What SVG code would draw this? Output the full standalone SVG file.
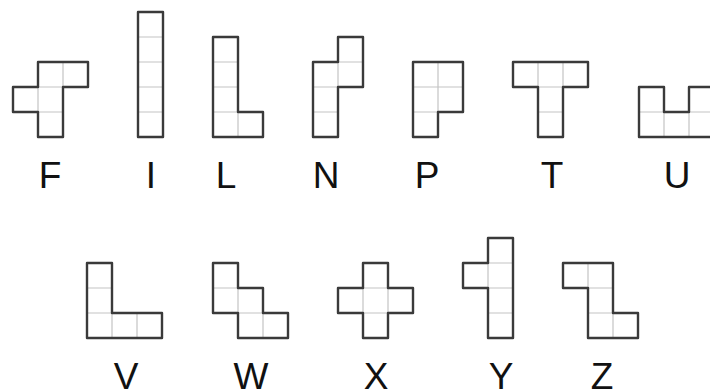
<svg xmlns="http://www.w3.org/2000/svg" width="710" height="391" viewBox="0 0 710 391">
<style>
.out{fill:none;stroke:#3a3a3a;stroke-width:2.4;stroke-linejoin:round}
.in{fill:none;stroke:#c4c4c4;stroke-width:1.2}
.lbl{font-family:"Liberation Sans",Arial,sans-serif;font-size:37px;fill:#111;text-anchor:middle}
</style>
<rect width="710" height="391" fill="#fff"/>
<g id="F"><path class="in" d="M63,62V87M38,87H63M38,87V112M38,112H63"/><path class="out" d="M38,62H88V87H63V137H38V112H13V87H38Z"/><text class="lbl" x="50" y="188">F</text></g>
<g id="I"><path class="in" d="M138,37H163M138,62H163M138,87H163M138,112H163"/><path class="out" d="M138,12H163V137H138Z"/><text class="lbl" x="151" y="188">I</text></g>
<g id="L"><path class="in" d="M213,62H238M213,87H238M213,112H238M238,112V137"/><path class="out" d="M213,37H238V112H263V137H213Z"/><text class="lbl" x="226" y="188">L</text></g>
<g id="N"><path class="in" d="M338,62H363M338,62V87M313,87H338M313,112H338"/><path class="out" d="M338,37H363V87H338V137H313V62H338Z"/><text class="lbl" x="326" y="188">N</text></g>
<g id="P"><path class="in" d="M438,62V112M413,87H463M413,112H438"/><path class="out" d="M413,62H463V112H438V137H413Z"/><text class="lbl" x="427" y="188">P</text></g>
<g id="T"><path class="in" d="M538,62V87M563,62V87M538,87H563M538,112H563"/><path class="out" d="M513,62H588V87H563V137H538V87H513Z"/><text class="lbl" x="552" y="188">T</text></g>
<g id="U"><path class="in" d="M639,112H664M689,112H714M664,112V137M689,112V137"/><path class="out" d="M639,87H664V112H689V87H714V137H639Z"/><text class="lbl" x="677" y="188">U</text></g>
<g id="V"><path class="in" d="M87,288H112M87,313H112M112,313V338M137,313V338"/><path class="out" d="M87,263H112V313H162V338H87Z"/><text class="lbl" x="126" y="389">V</text></g>
<g id="W"><path class="in" d="M213,288H238M238,288V313M238,313H263M263,313V338"/><path class="out" d="M213,263H238V288H263V313H288V338H238V313H213Z"/><text class="lbl" x="251" y="389">W</text></g>
<g id="X"><path class="in" d="M363,288H388M363,313H388M363,288V313M388,288V313"/><path class="out" d="M363,263H388V288H413V313H388V338H363V313H338V288H363Z"/><text class="lbl" x="376" y="389">X</text></g>
<g id="Y"><path class="in" d="M488,263H513M488,288H513M488,313H513M488,263V288"/><path class="out" d="M488,238H513V338H488V288H463V263H488Z"/><text class="lbl" x="501" y="389">Y</text></g>
<g id="Z"><path class="in" d="M588,263V288M588,288H613M588,313H613M613,313V338"/><path class="out" d="M563,263H613V313H638V338H588V288H563Z"/><text class="lbl" x="602" y="389">Z</text></g>
<g id="connectors"></g>
</svg>
